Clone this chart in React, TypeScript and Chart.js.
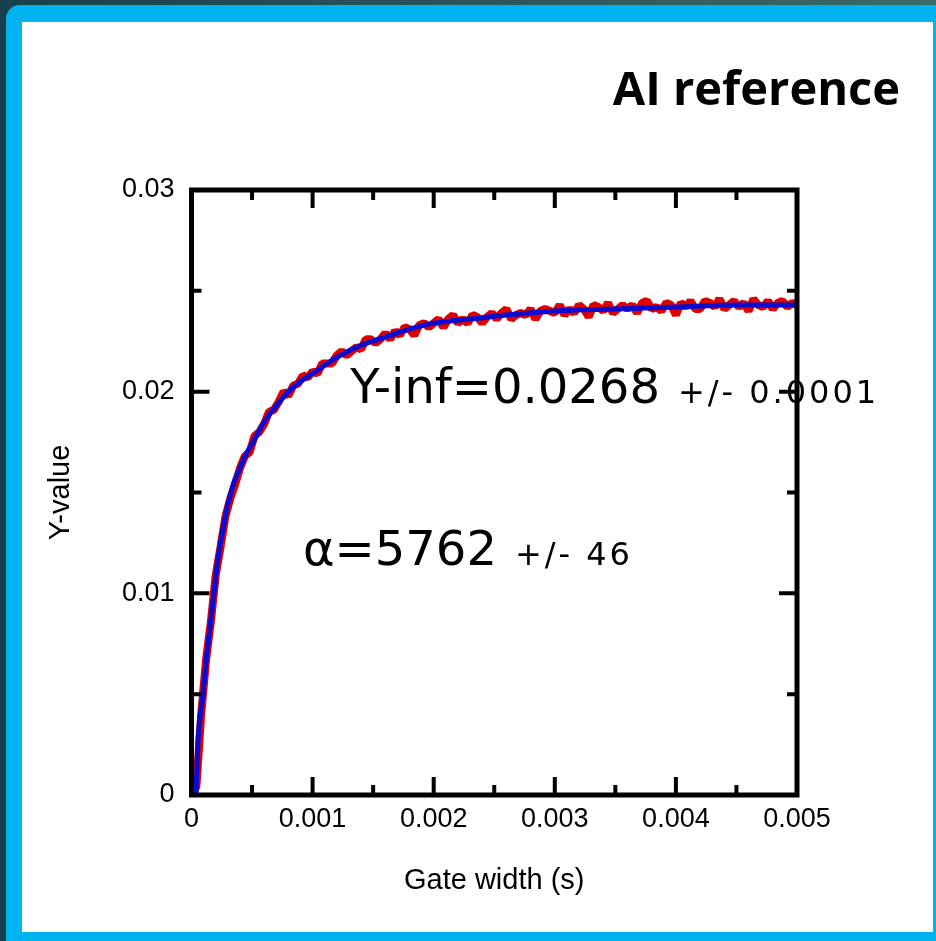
import React, { useEffect, useRef } from 'react';
import { Chart, registerables } from 'chart.js';

Chart.register(...registerables);

// ---- data ----
const fitX = [0.000037, 0.000054, 0.000095, 0.00013, 0.00017, 0.00022, 0.00026, 0.0003, 0.00035, 0.0004, 0.00045, 0.0005, 0.0006, 0.0007, 0.0008, 0.0009, 0.001, 0.0012, 0.0014, 0.0016, 0.0018, 0.002, 0.0023, 0.0026, 0.003, 0.0035, 0.004, 0.0045, 0.005];
const fitY = [0, 0.0027, 0.005, 0.0072, 0.0092, 0.0118, 0.0132, 0.0144, 0.0155, 0.0162, 0.0169, 0.0174, 0.0185, 0.0193, 0.02, 0.0205, 0.0209, 0.0217, 0.0223, 0.0227, 0.0231, 0.0234, 0.0236, 0.0238, 0.024, 0.0241, 0.0242, 0.0243, 0.0243];

const dataStep = 0.00004; // sampling interval of the measured series
const dataY = [
  0, 0.0004, 0.004, 0.0067, 0.0086, 0.0109, 0.0123, 0.0138, 0.0147, 0.0154, 0.0162,
  0.0168, 0.017, 0.0178, 0.018, 0.0184, 0.019, 0.0191, 0.0195, 0.02, 0.0198,
  0.0203, 0.0204, 0.0208, 0.0207, 0.021, 0.0209, 0.0214, 0.0214, 0.0214, 0.0218,
  0.022, 0.0218, 0.022, 0.0222, 0.0221, 0.0226, 0.0226, 0.0224, 0.0226, 0.0229,
  0.0226, 0.023, 0.0228, 0.0232, 0.0231, 0.0228, 0.0233, 0.0234, 0.0232, 0.0234,
  0.0236, 0.0232, 0.0236, 0.0238, 0.0234, 0.0236, 0.0234, 0.0238, 0.0237, 0.0234,
  0.0237, 0.0239, 0.0236, 0.0239, 0.0241, 0.0236, 0.0238, 0.0239, 0.0238, 0.0241,
  0.0236, 0.024, 0.0241, 0.024, 0.0239, 0.0243, 0.0238, 0.0241, 0.0239, 0.0243,
  0.0241, 0.0237, 0.0243, 0.0242, 0.024, 0.0244, 0.0239, 0.0241, 0.0243, 0.0241,
  0.0243, 0.0239, 0.0244, 0.0245, 0.0241, 0.0242, 0.024, 0.0244, 0.0243, 0.0238,
  0.0244, 0.0242, 0.0245, 0.0241, 0.0241, 0.0245, 0.0244, 0.0242, 0.0246, 0.0241,
  0.0243, 0.0245, 0.0242, 0.0244, 0.024, 0.0246, 0.0243, 0.0242, 0.0245, 0.0241,
  0.0244, 0.0245, 0.0242, 0.0244, 0.0243,
];

const xTicks = [0, 0.001, 0.002, 0.003, 0.004, 0.005];
const xTickLabels = ['0', '0.001', '0.002', '0.003', '0.004', '0.005'];
const xMinorTicks = [0.0005, 0.0015, 0.0025, 0.0035, 0.0045];
const yTicks = [0, 0.01, 0.02, 0.03];
const yTickLabels = ['0', '0.01', '0.02', '0.03'];
const yMinorTicks = [0.005, 0.015, 0.025];

const titleText = 'AI reference';
const xTitle = 'Gate width (s)';
const yTitle = 'Y-value';

const annotationX = [0.00131, 0.00092];
const annotationY = [0.01943, 0.0114];
const annotationBig = ['Y-inf=0.0268', 'α=5762'];
const annotationSmall = ['+/- 0.0001', '+/- 46'];

const FONT = "'Liberation Sans', Arial, sans-serif";

const framePlugin = {
  id: 'frame',
  beforeDraw(chart: any) {
    const { ctx, width, height } = chart;
    ctx.save();
    const g = ctx.createLinearGradient(0, 0, width, 0);
    g.addColorStop(0, '#17414c');
    g.addColorStop(1, '#3b6a6a');
    ctx.fillStyle = g;
    ctx.fillRect(0, 0, width, height);
    ctx.fillStyle = '#00b2ef';
    ctx.beginPath();
    ctx.roundRect(6, 5, width + 20, height + 20, 14);
    ctx.fill();
    ctx.fillStyle = '#ffffff';
    ctx.fillRect(22, 22, 911, 910);
    ctx.restore();
  },
};

const textPlugin = {
  id: 'texts',
  afterDatasetsDraw(chart: any) {
    const { ctx, scales } = chart;
    ctx.save();
    ctx.fillStyle = '#000';
    ctx.textBaseline = 'alphabetic';
    ctx.textAlign = 'left';
    for (let i = 0; i < annotationBig.length; i++) {
      const px = scales.x.getPixelForValue(annotationX[i]);
      const py = scales.y.getPixelForValue(annotationY[i]);
      ctx.font = "48px 'DejaVu Sans', sans-serif";
      (ctx as any).letterSpacing = '0px';
      ctx.fillText(annotationBig[i], px, py);
      const w = ctx.measureText(annotationBig[i]).width;
      ctx.font = "32px 'DejaVu Sans', sans-serif";
      (ctx as any).letterSpacing = '3px';
      ctx.fillText(annotationSmall[i], px + w + 18, py);
      (ctx as any).letterSpacing = '0px';
    }
    ctx.restore();
  },
  afterDraw(chart: any) {
    const { ctx, scales, chartArea } = chart;
    const { left, right, top, bottom } = chartArea;
    ctx.save();
    ctx.strokeStyle = '#000';
    ctx.lineCap = 'butt';
    const tick = (vals: number[], len: number) => {
      for (const v of vals) {
        const x = scales.x.getPixelForValue(v);
        ctx.beginPath();
        ctx.moveTo(x, bottom);
        ctx.lineTo(x, bottom - len);
        ctx.moveTo(x, top);
        ctx.lineTo(x, top + len);
        ctx.stroke();
      }
    };
    const ytick = (vals: number[], len: number) => {
      for (const v of vals) {
        const y = scales.y.getPixelForValue(v);
        ctx.beginPath();
        ctx.moveTo(left, y);
        ctx.lineTo(left + len, y);
        ctx.moveTo(right, y);
        ctx.lineTo(right - len, y);
        ctx.stroke();
      }
    };
    ctx.lineWidth = 4;
    tick(xTicks, 18);
    tick(xMinorTicks, 10);
    ytick(yTicks, 18);
    ytick(yMinorTicks, 10);
    ctx.lineWidth = 5;
    ctx.strokeRect(left, top, right - left, bottom - top);
    ctx.fillStyle = '#000';
    ctx.font = "bold 47px 'Open Sans', Lato, sans-serif";
    ctx.textAlign = 'right';
    ctx.textBaseline = 'alphabetic';
    ctx.fillText(titleText, 900, 105);
    ctx.restore();
  },
};

export default function App() {
  const ref = useRef<HTMLCanvasElement | null>(null);
  useEffect(() => {
    if (!ref.current) return;
    const redPoints = dataY.map((y, i) => ({ x: i * dataStep, y }));
    const bluePoints = fitX.map((x, i) => ({ x, y: fitY[i] }));
    const chart = new Chart(ref.current, {
      type: 'line',
      data: {
        datasets: [
          {
            label: 'fit',
            data: bluePoints,
            borderColor: '#0a0ad0',
            borderWidth: 5,
            pointRadius: 0,
            tension: 0.4,
            cubicInterpolationMode: 'monotone',
            order: 0,
          },
          {
            label: 'data',
            data: redPoints,
            borderColor: '#e00000',
            borderWidth: 8,
            pointRadius: 0,
            tension: 0,
            borderJoinStyle: 'bevel',
            order: 1,
          },
        ],
      },
      options: {
        responsive: false,
        animation: false,
        events: [],
        layout: { padding: { left: 22, top: 190, right: 139, bottom: 9 } },
        plugins: {
          legend: { display: false },
          tooltip: { enabled: false },
          title: { display: false },
        },
        scales: {
          x: {
            type: 'linear',
            min: 0,
            max: 0.005,
            grid: { display: false },
            border: { display: false },
            afterBuildTicks: (s: any) => {
              s.ticks = xTicks.map((v) => ({ value: v }));
            },
            afterFit: (s: any) => {
              s.height = 137;
            },
            ticks: {
              color: '#000',
              padding: 0,
              maxRotation: 0,
              autoSkip: false,
              font: { family: FONT, size: 27 },
              callback: (v: any) => xTickLabels[xTicks.indexOf(v)] ?? '',
            },
            title: {
              display: true,
              text: xTitle,
              color: '#000',
              font: { family: FONT, size: 29 },
              padding: { top: 0, bottom: 34 },
            },
          },
          y: {
            type: 'linear',
            min: 0,
            max: 0.03,
            grid: { display: false },
            border: { display: false },
            afterBuildTicks: (s: any) => {
              s.ticks = yTicks.map((v) => ({ value: v }));
            },
            afterFit: (s: any) => {
              s.width = 169.5;
            },
            ticks: {
              color: '#000',
              padding: 9,
              autoSkip: false,
              font: { family: FONT, size: 27 },
              callback: (v: any) => yTickLabels[yTicks.indexOf(v)] ?? '',
            },
            title: {
              display: true,
              text: yTitle,
              color: '#000',
              font: { family: FONT, size: 29 },
              padding: { top: 22, bottom: 0 },
            },
          },
        },
      },
      plugins: [framePlugin, textPlugin],
    } as any);
    return () => chart.destroy();
  }, []);
  return (
    <div style={{ position: 'fixed', left: 0, top: 0, width: 936, height: 941 }}>
      <canvas ref={ref} width={936} height={941} style={{ display: 'block', width: 936, height: 941 }} />
    </div>
  );
}
